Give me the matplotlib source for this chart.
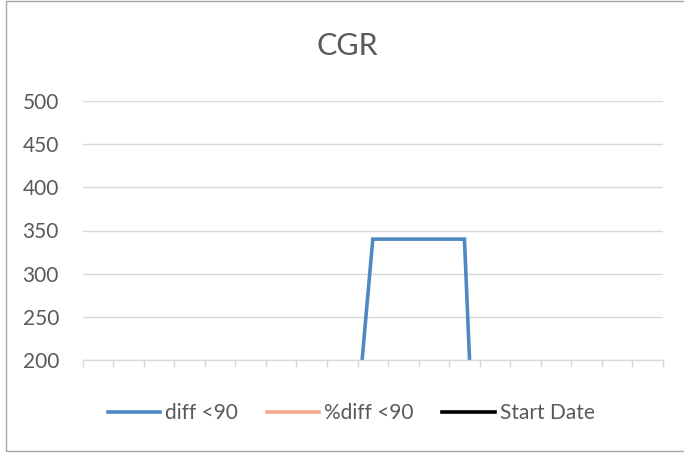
import numpy as np
import matplotlib.pyplot as plt
from matplotlib.lines import Line2D
from matplotlib.patches import Rectangle

# datos (los puntos fuera de rango quedan por debajo de 200)
categorias = list(range(1, 20))
diff_90 = [-60, -60, -60, -60, -60, -60, -60, -60, -60,
           340, 340, 340, 340,
           -500, -500, -500, -500, -500, -500]
series = ['diff <90', '%diff <90', 'Start Date']
colores = ['#4F88C2', '#F4AA8C', '#000000']
yticks = [200, 250, 300, 350, 400, 450, 500]

plt.rcParams['font.family'] = ['Lato', 'DejaVu Sans']

W, H = 684, 453
fig = plt.figure(figsize=(W / 100, H / 100), dpi=100)
ax = fig.add_axes([82.6 / W, (H - 360) / H, (663 - 82.6) / W, (360 - 101) / H])

x = np.arange(len(categorias))
ax.plot(x, diff_90, color=colores[0], lw=2.6, solid_joinstyle='miter')

ax.set_xlim(-0.5, len(categorias) - 0.5)
ax.set_ylim(yticks[0], yticks[-1])
ax.set_yticks(yticks)
ax.set_xticks(np.arange(-0.5, len(categorias), 1.0))
ax.set_xticklabels([])
ax.grid(axis='y', color='#D9D9D9', lw=1.0)
ax.set_axisbelow(True)
for s in ['top', 'left', 'right']:
    ax.spines[s].set_visible(False)
ax.spines['bottom'].set_color('#D9D9D9')
ax.spines['bottom'].set_linewidth(1.0)
ax.tick_params(axis='y', length=0, labelsize=15, labelcolor='#595959', pad=17)
ax.tick_params(axis='x', length=5, color='#D9D9D9', width=1.0)

fig.text(347 / W, 1 - 46 / H, 'CGR', ha='center', va='center', fontsize=22, color='#595959')

handles = [Line2D([], [], color=c, lw=2.6) for c in colores]
fig.legend(handles, series, loc='center', bbox_to_anchor=(351 / W, 1 - 413 / H), ncol=3,
           frameon=False, fontsize=15, labelcolor='#595959', handlelength=2.5,
           handletextpad=0.24, columnspacing=1.4)

fig.patches.append(Rectangle((6 / W, 2.5 / H), 690 / W, 449.5 / H, transform=fig.transFigure,
                             fill=False, edgecolor='#A6A6A6', lw=1.0))

fig.savefig('out.png', dpi=100)
